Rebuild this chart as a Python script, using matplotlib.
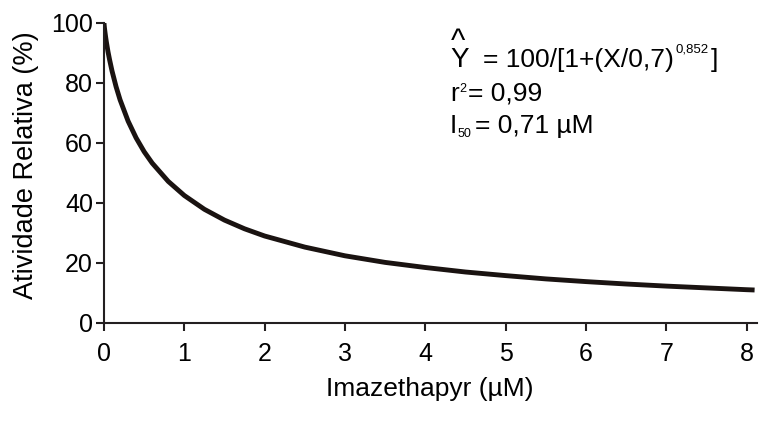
import matplotlib
matplotlib.use("Agg")
import matplotlib.pyplot as plt

# values
dose = [0, 0.005, 0.01, 0.02, 0.03, 0.05, 0.07, 0.1, 0.15, 0.2, 0.3, 0.4, 0.5,
        0.6, 0.8, 1.0, 1.25, 1.5, 1.75, 2.0, 2.5, 3.0, 3.5, 4.0, 4.5, 5.0,
        5.5, 6.0, 6.5, 7.0, 7.5, 8.0, 8.1]
activity = [100, 98.5, 97.4, 95.4, 93.6, 90.4, 87.7, 84.0, 78.8, 74.4, 67.3,
            61.7, 57.1, 53.3, 47.2, 42.5, 37.9, 34.3, 31.4, 29.0, 25.3, 22.4,
            20.2, 18.5, 17.0, 15.8, 14.7, 13.8, 13.0, 12.3, 11.7, 11.1, 11.0]

x_ticks = [0, 1, 2, 3, 4, 5, 6, 7, 8]
y_ticks = [0, 20, 40, 60, 80, 100]

plt.rcParams['font.family'] = ['Liberation Sans', 'DejaVu Sans']
ink = '#231f20'

W, H = 759, 430
fig = plt.figure(figsize=(W / 100, H / 100), dpi=100)
ax = fig.add_axes([104 / W, 1 - 323 / H, (757 - 104) / W, 300 / H])

ax.plot(dose, activity, color='#1a1311', lw=3.5, solid_capstyle='butt')

ax.set_xlim(0, 8.13)
ax.set_ylim(0, 100)
ax.set_xticks(x_ticks)
ax.set_yticks(y_ticks)
for s in ['top', 'right']:
    ax.spines[s].set_visible(False)
for s in ['left', 'bottom']:
    ax.spines[s].set_linewidth(1.5)
    ax.spines[s].set_color(ink)
ax.tick_params(direction='out', length=6, width=1.5, color=ink,
               labelsize=18, labelcolor='black')
ax.tick_params(axis='x', pad=8)
ax.tick_params(axis='y', pad=2)

ax.set_xlabel('Imazethapyr (µM)', fontsize=19)
ax.set_ylabel('Atividade Relativa (%)', fontsize=19.5)
ax.xaxis.set_label_coords((430 - 104) / 653, (323 - 377) / 300)
ax.yaxis.set_label_coords((39 - 104) / 653, (323 - 165) / 300)


def px(x, y, s, size=19, **kw):
    fig.text(x / W, 1 - y / H, s, fontsize=size, va='baseline', ha='left', **kw)


# equation block, top right
px(450, 67, 'Y', size=20)
px(451, 50, '^', size=22)
px(483, 67, '= 100/[1+(X/0,7)')
px(675, 53, '0,852', size=9.5)
px(711, 67, ']')
px(450, 101, 'r')
px(459, 92, '2', size=9)
px(468, 101, '= 0,99')
px(450, 133, 'I')
px(458, 137, '50', size=9)
px(475, 133, '= 0,71 µM')

fig.savefig('out.png', dpi=100)
